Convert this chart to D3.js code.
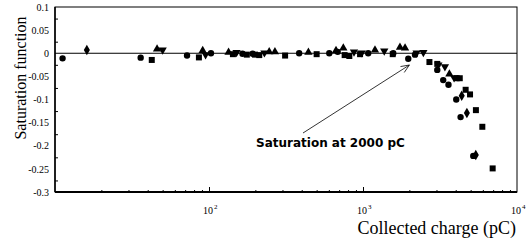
<!DOCTYPE html>
<html>
<head>
<meta charset="utf-8">
<script src="https://cdn.jsdelivr.net/npm/d3@7"></script>
<style>
  body { margin: 0; background: #fff; }
  svg { display: block; }
</style>
</head>
<body>
<svg id="chart" width="527" height="245"></svg>
<script>
// data: [charge pC, saturation]
let circles = [[11.2,-0.011],[36,-0.0095],[72,-0.005],[103,0],[165,-0.001],[192,-0.001],[385,0],[604,0],[685,0.003],[1081,0],[1572,0],[1968,-0.012],[2176,-0.003],[3036,-0.036],[3318,-0.058],[3590,-0.068],[4032,-0.1],[4302,-0.138],[5200,-0.222]]
let squares = [[42.5,-0.0145],[86,-0.009],[143,-0.002],[176,-0.003],[199,-0.003],[212,-0.004],[312,-0.005],[500,-0.002],[760,-0.004],[815,-0.006],[957,-0.002],[1560,-0.002],[2700,-0.019],[3036,-0.023],[4055,-0.054],[4250,-0.054],[4640,-0.079],[4955,-0.089],[5410,-0.123],[5955,-0.159],[6950,-0.249]]
let trianglesUp = [[46,0.009],[91,0.006],[134,0.002],[246,0.003],[268,0.003],[442,0.002],[668,0.006],[745,0.011],[1196,0.007],[1738,0.013],[1875,0.011],[3639,-0.045]]
let trianglesDown = [[50,0.007],[95,-0.003],[151,0.002],[229,0.001],[874,0.003],[981,0.001],[1374,0.005],[2229,0.001],[2466,0.002],[3087,-0.025],[3404,-0.029],[3905,-0.053]]
let diamonds = [[16.1,0.007],[4375,-0.092],[4727,-0.129],[5400,-0.22]]

let yTicks = [0.1, 0.05, 0, -0.05, -0.1, -0.15, -0.2, -0.25, -0.3]
let xTickLabels = [[100,"2"],[1000,"3"],[10000,"4"]]
let annotation = {text: "Saturation at 2000 pC", tip: [2000, -0.0255]}

let svg = d3.select("#chart")
let mLeft = 55, mRight = 517, mTop = 7, mBottom = 192

let xScale = d3.scaleLog().domain([10, 10000]).range([mLeft, mRight])
let yScale = d3.scaleLinear().domain([-0.3, 0.1]).range([mBottom, mTop])

// minor/major ticks, drawn inward
let xMinor = []
for (let dec = 10; dec < 10000; dec *= 10) {
    for (let k = 2; k <= 9; k++) xMinor.push(dec * k)
}
svg.append("g").attr("transform", `translate(0,${mBottom})`)
    .call(d3.axisBottom(xScale).tickValues(xMinor).tickSize(-2).tickFormat(""))
    .call(g => g.select(".domain").remove())
svg.append("g").attr("transform", `translate(0,${mBottom})`)
    .call(d3.axisBottom(xScale).tickValues([100, 1000]).tickSize(-5).tickFormat(""))
    .call(g => g.select(".domain").remove())

let yMinor = d3.range(-0.275, 0.1, 0.05)
svg.append("g").attr("transform", `translate(${mLeft},0)`)
    .call(d3.axisLeft(yScale).tickValues(yMinor).tickSize(-3).tickFormat(""))
    .call(g => g.select(".domain").remove())

let yAxis = d3.axisLeft(yScale).tickValues(yTicks).tickSize(0).tickPadding(6)
    .tickFormat(d => d === 0 ? "0" : String(+d.toFixed(2)))
svg.append("g").attr("transform", `translate(${mLeft},0)`).call(yAxis)
    .call(g => g.select(".domain").remove())
    .selectAll("text")
    .style("font-family", "'Liberation Serif', serif")
    .style("font-size", "10px")
    .attr("fill", "#000")

// frame
svg.append("rect").attr("x", mLeft).attr("y", mTop)
    .attr("width", mRight - mLeft).attr("height", mBottom - mTop)
    .attr("fill", "none").attr("stroke", "#000").attr("stroke-width", 1)
svg.append("line").attr("x1", mLeft).attr("x2", mRight).attr("y1", mBottom).attr("y2", mBottom)
    .attr("stroke", "#000").attr("stroke-width", 1.8)
svg.append("line").attr("x1", mLeft).attr("x2", mLeft).attr("y1", mTop).attr("y2", mBottom)
    .attr("stroke", "#000").attr("stroke-width", 1.5)

// zero line
svg.append("line").attr("x1", mLeft).attr("x2", mRight)
    .attr("y1", yScale(0)).attr("y2", yScale(0))
    .attr("stroke", "#000").attr("stroke-width", 1)

// x tick labels 10^n
let xl = svg.append("g")
    .style("font-family", "'Liberation Serif', serif")
    .attr("fill", "#000")
xTickLabels.forEach(t => {
    let txt = xl.append("text")
        .attr("x", xScale(t[0]) - 6).attr("y", 214)
        .style("font-size", "10px")
    txt.append("tspan").text("10")
    txt.append("tspan").attr("dy", -5).style("font-size", "7px").attr("dx", 1).text(t[1])
})

// axis titles
svg.append("text")
    .attr("x", 516).attr("y", 234)
    .attr("text-anchor", "end")
    .style("font-family", "'Liberation Serif', serif")
    .style("font-size", "18px")
    .text("Collected charge (pC)")

svg.append("text")
    .attr("transform", "translate(26,78) rotate(-90)")
    .attr("text-anchor", "middle")
    .style("font-family", "'Liberation Serif', serif")
    .style("font-size", "16px")
    .text("Saturation function")

// markers
function drawSeries(data, type, size, rot) {
    svg.append("g").selectAll("path")
        .data(data)
        .join("path")
        .attr("d", d3.symbol().type(type).size(size))
        .attr("transform", d => `translate(${xScale(d[0])},${yScale(d[1])}) rotate(${rot})`)
        .attr("fill", "#000")
}
drawSeries(circles, d3.symbolCircle, 32, 0)
drawSeries(squares, d3.symbolSquare, 36, 0)
drawSeries(trianglesUp, d3.symbolTriangle, 30, 0)
drawSeries(trianglesDown, d3.symbolTriangle, 30, 180)
drawSeries(diamonds, d3.symbolDiamond, 32, 0)

// annotation arrow
let ax = 303, ay = 133
let x2 = xScale(annotation.tip[0]), y2 = yScale(annotation.tip[1])
svg.append("line")
    .attr("x1", ax).attr("y1", ay)
    .attr("x2", x2).attr("y2", y2)
    .attr("stroke", "#000").attr("stroke-width", 0.8)
let ang = Math.atan2(y2 - ay, x2 - ax)
let headLen = 9, spread = 0.4
let p1 = [x2 - headLen * Math.cos(ang - spread), y2 - headLen * Math.sin(ang - spread)]
let p2 = [x2 - headLen * Math.cos(ang + spread), y2 - headLen * Math.sin(ang + spread)]
svg.append("path")
    .attr("d", `M${p1[0]},${p1[1]}L${x2},${y2}L${p2[0]},${p2[1]}`)
    .attr("fill", "none").attr("stroke", "#000").attr("stroke-width", 0.8)

svg.append("text")
    .attr("x", 256).attr("y", 147)
    .style("font-family", "'DejaVu Sans', sans-serif")
    .style("font-weight", "bold")
    .style("font-size", "12px")
    .text(annotation.text)
</script>
</body>
</html>
